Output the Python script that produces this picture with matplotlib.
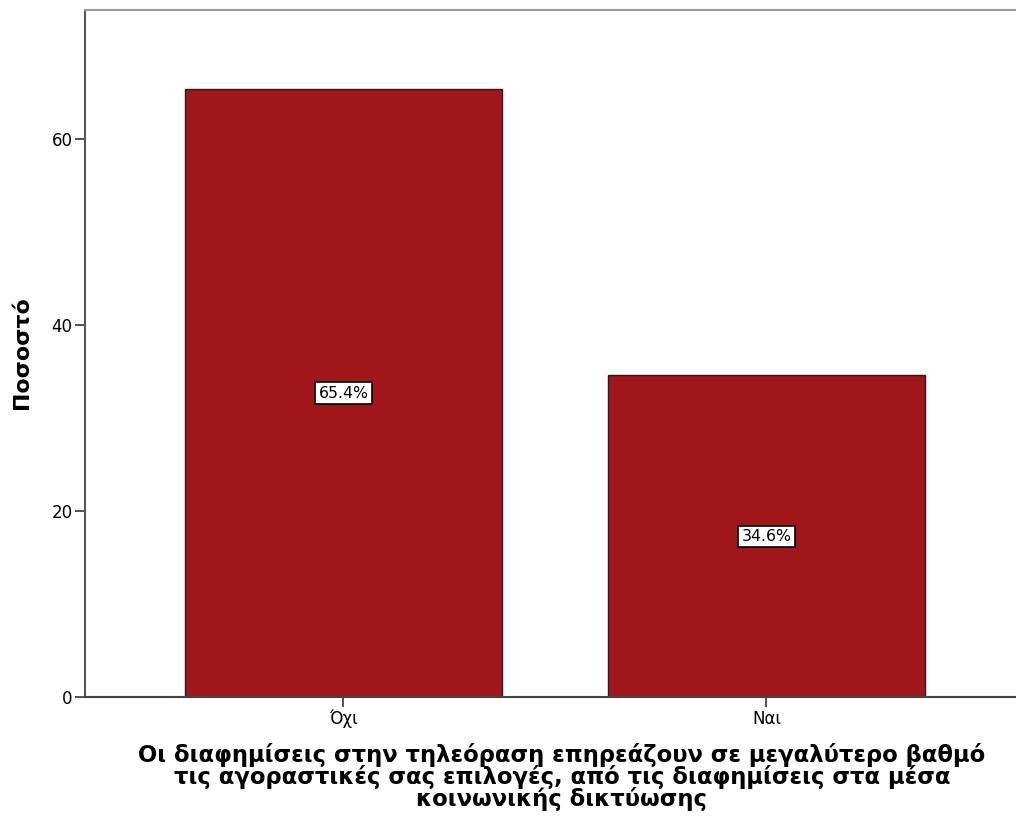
import matplotlib.pyplot as plt

# Ποσοστά απαντήσεων
categories = ["Όχι", "Ναι"]
percentages = [65.4, 34.6]
yticks = [0, 20, 40, 60]

plt.rcParams['font.family'] = ['DejaVu Sans']

fig = plt.figure(figsize=(10.16, 8.23), dpi=100)
ax = fig.add_axes([85 / 1016, 126 / 823, 1 - 85 / 1016, (697 - 10) / 823])

x = list(range(len(categories)))
ax.bar(x, percentages, width=0.75, color='#A0161A', edgecolor='#2a1a1a', linewidth=1.0, zorder=2)

for xi, p in zip(x, percentages):
    ax.text(xi, p / 2, f"{p:.1f}%", ha='center', va='center', fontsize=11.3,
            bbox=dict(boxstyle='square,pad=0.2', facecolor='white', edgecolor='black', linewidth=1.2),
            zorder=3)

ax.set_xlim(-0.611, 1.59)
ax.set_ylim(0, 73.9)
ax.set_xticks(x)
ax.set_xticklabels(categories, fontsize=12)
ax.set_yticks(yticks)
ax.set_yticklabels([str(t) for t in yticks], fontsize=12)
ax.tick_params(axis='both', direction='out', length=7.5, width=1.3, color='#444444', pad=1.5)

ax.spines['right'].set_visible(False)
ax.spines['top'].set_color('#9a9a9a')
ax.spines['top'].set_linewidth(1.5)
ax.spines['left'].set_color('#555555')
ax.spines['left'].set_linewidth(1.5)
ax.spines['bottom'].set_color('#444444')
ax.spines['bottom'].set_linewidth(1.5)

fig.text(22 / 1016, 1 - 353 / 823, "Ποσοστό", rotation=90, ha='center', va='center',
         fontsize=15.8, fontweight='bold')
fig.text(562 / 1016, 1 - 777 / 823,
         "Οι διαφημίσεις στην τηλεόραση επηρεάζουν σε μεγαλύτερο βαθμό\n"
         "τις αγοραστικές σας επιλογές, από τις διαφημίσεις στα μέσα\n"
         "κοινωνικής δικτύωσης",
         ha='center', va='center', fontsize=16.3, fontweight='bold', linespacing=0.9)

fig.savefig("out.png", dpi=100)
